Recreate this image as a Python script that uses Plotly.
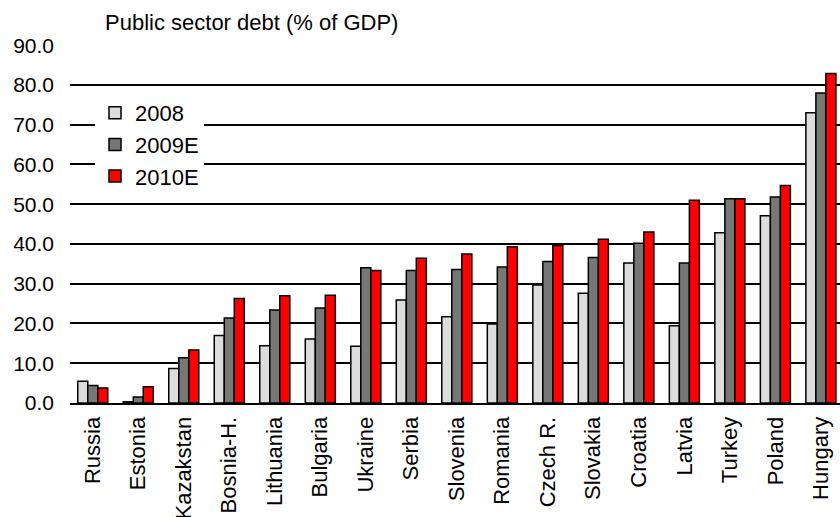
import plotly.graph_objects as go

countries = ["Russia", "Estonia", "Kazakstan", "Bosnia-H.", "Lithuania", "Bulgaria",
             "Ukraine", "Serbia", "Slovenia", "Romania", "Czech R.", "Slovakia",
             "Croatia", "Latvia", "Turkey", "Poland", "Hungary"]
debt_2008 = [5.5, 0.3, 8.7, 17.0, 14.4, 16.1, 14.3, 25.9, 21.7, 19.9, 29.7, 27.6,
             35.2, 19.4, 42.8, 47.1, 73.0]
debt_2009 = [4.4, 1.5, 11.4, 21.4, 23.4, 23.9, 34.0, 33.3, 33.6, 34.2, 35.6, 36.6,
             40.2, 35.2, 51.4, 51.8, 78.0]
debt_2010 = [3.8, 4.1, 13.3, 26.3, 27.0, 27.1, 33.3, 36.4, 37.5, 39.3, 39.6, 41.2,
             43.0, 51.0, 51.4, 54.7, 82.9]
series_names = ["2008", "2009E", "2010E"]
series_colors = ["#DDDDDD", "#777777", "#FF0000"]
title_text = "Public sector debt (% of GDP)"

FONT = "Liberation Sans, Arial, sans-serif"

fig = go.Figure()
for name, vals, col in zip(series_names, [debt_2008, debt_2009, debt_2010], series_colors):
    fig.add_trace(go.Bar(
        x=countries, y=vals, name=name, legendgroup=name,
        marker=dict(color=col, line=dict(color="#000000", width=1.5)),
    ))

fig.update_layout(
    width=840, height=517,
    margin=dict(l=70, r=0, t=45, b=114, autoexpand=False),
    paper_bgcolor="white", plot_bgcolor="white",
    barmode="group", bargap=0.34, bargroupgap=0,
    font=dict(family=FONT, size=20, color="#000000"),
    showlegend=True,
    legend=dict(
        x=(95 - 70) / 770, y=(403 - 92) / 358, xanchor="left", yanchor="top",
        bgcolor="white", borderwidth=0,
        font=dict(family=FONT, size=22, color="#000000"),
        tracegroupgap=0,
    ),
    annotations=[dict(
        text=title_text, xref="paper", yref="paper",
        x=(103 - 70) / 770, y=(403 - 22) / 358, xanchor="left", yanchor="middle",
        showarrow=False, font=dict(family=FONT, size=22, color="#000000"),
    )],
)
fig.update_xaxes(
    type="category", range=[-0.5, 16.42], automargin=False,
    showline=True, linecolor="#000000", linewidth=2,
    showgrid=False, ticks="", tickangle=-90,
    tickfont=dict(family=FONT, size=22), ticklabelstandoff=3,
)
fig.update_yaxes(
    range=[0, 90.05], tickvals=[0, 10, 20, 30, 40, 50, 60, 70, 80, 90], automargin=False,
    tickformat=".1f", showgrid=True, gridcolor="#000000", gridwidth=2,
    zeroline=False, showline=False, ticks="",
    tickfont=dict(family=FONT, size=21), ticklabelstandoff=15,
)

fig.write_html("out.html", config={"displayModeBar": False},
               post_script="document.body.style.margin='0';document.body.style.overflow='hidden';")
